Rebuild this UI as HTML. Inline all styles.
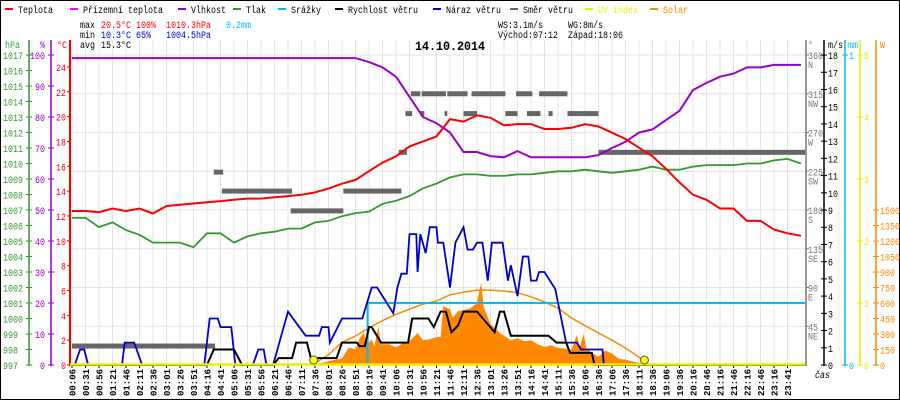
<!DOCTYPE html>
<html><head><meta charset="utf-8">
<style>
html,body{margin:0;padding:0;background:#fff;}
svg{display:block;font-family:"Liberation Mono",monospace;}
</style></head>
<body>
<svg id="chart" width="900" height="400" viewBox="0 0 900 400" xmlns="http://www.w3.org/2000/svg">
<rect x="0.5" y="0.5" width="899" height="399" fill="#fff" stroke="#000" stroke-width="1"/>
<g id="grid"></g>
<g id="legend" font-size="10">
</g>
<g font-size="10">
<text x="80" y="28">max</text>
<text x="101" y="28" fill="#f00">20.5°C</text>
<text x="136" y="28" fill="#f00">100%</text>
<text x="166" y="28" fill="#f00">1010.3hPa</text>
<text x="226" y="28" fill="#0bf">0.2mm</text>
<text x="80" y="38">min</text>
<text x="101" y="38" fill="#00c">10.3°C</text>
<text x="136" y="38" fill="#00c">65%</text>
<text x="166" y="38" fill="#00c">1004.5hPa</text>
<text x="80" y="48">avg</text>
<text x="101" y="48">15.3°C</text>
<text x="498" y="28">WS:3.1m/s</text>
<text x="568" y="28">WG:8m/s</text>
<text x="498" y="38">Východ:07:12</text>
<text x="568" y="38">Západ:18:06</text>
</g>
<text id="title" x="415" y="50" font-size="13" font-weight="bold">14.10.2014</text>
<g id="axes"></g>
<g id="series"></g>
</svg>
<script>
const xLabels=["00:06","00:31","00:56","01:21","01:46","02:11","02:36","03:01","03:26","03:51","04:16","04:41","05:06","05:31","05:56","06:21","06:46","07:11","07:36","08:01","08:26","08:51","09:16","09:41","10:06","10:31","10:56","11:21","11:46","12:11","12:36","13:01","13:26","13:51","14:16","14:41","15:11","15:36","16:06","16:36","17:06","17:36","18:11","18:36","19:06","19:36","20:16","20:46","21:16","21:46","22:16","22:46","23:16","23:41"];
const temperature=[12.4,12.4,12.3,12.6,12.4,12.6,12.2,12.8,12.9,13.0,13.1,13.2,13.3,13.4,13.4,13.5,13.6,13.7,13.9,14.2,14.6,14.9,15.6,16.3,16.8,17.6,18.0,18.4,19.8,19.6,20.1,19.9,19.3,19.4,19.4,19.0,19.0,19.1,19.4,19.2,18.7,18.2,17.5,16.8,15.8,14.7,13.7,13.3,12.6,12.6,11.6,11.6,10.9,10.6,10.4];
const humidity=[99,99,99,99,99,99,99,99,99,99,99,99,99,99,99,99,99,99,99,99,99,99,97.7,96,93,86.5,80,78,75,68.7,68.7,67.4,67,69,67,67,67,67,67,67.7,70,72,75,76,79,82,88.7,91,93,94,96,96,96.8,96.8,96.8];
const pressure=[1006.5,1006.5,1005.9,1006.2,1005.7,1005.4,1004.9,1004.9,1004.9,1004.6,1005.5,1005.5,1004.9,1005.3,1005.5,1005.6,1005.8,1005.8,1006.2,1006.3,1006.6,1006.8,1006.9,1007.4,1007.6,1007.9,1008.4,1008.7,1009.1,1009.3,1009.3,1009.2,1009.2,1009.3,1009.3,1009.4,1009.5,1009.5,1009.6,1009.5,1009.4,1009.5,1009.6,1009.8,1009.6,1009.6,1009.8,1009.9,1009.9,1009.9,1010.0,1010.0,1010.2,1010.3,1010.0];
const windIdx=[0,10.0,10.5,12.0,12.6,14.9,15.3,16.3,16.6,17.4,17.7,19.6,20.0,21.1,21.3,21.7,22.0,22.2,22.9,23.3,24.9,25.2,26.4,26.8,27.3,27.7,28.1,28.6,29.0,29.5,30.0,31.3,31.7,32.0,32.5,33.0,33.2,35.3,35.9,36.6,36.9,38.5,38.7,54.3];
const windVal=[0,0,0.9,0.9,0,0,0.4,0.4,1.3,1.3,0.4,0.4,1.3,1.3,1.1,1.1,2.2,2.2,1.3,1.3,1.3,2.7,2.7,2.2,3.1,3.1,1.9,2.3,3.1,3.1,3.1,1.9,3.1,3.1,1.7,1.7,1.7,1.7,1.3,1.3,0.7,0.7,0,0];
const gustIdx=[0,0.2,0.6,0.9,1.2,3.7,3.9,4.6,5.2,9.8,10.2,10.8,11.0,11.8,12.1,13.4,13.8,14.2,14.4,14.9,16.0,17.3,18.3,18.5,19.0,19.1,20.0,21.5,22.2,22.6,23.8,24.1,24.4,24.8,25.0,25.5,25.6,25.8,26.2,26.5,27.0,27.1,27.5,28.0,28.4,29.0,29.3,29.7,30.0,30.4,30.8,31.1,31.9,32.3,32.5,33.0,33.4,33.8,34.0,34.4,34.6,35.0,35.4,35.8,36.6,37.4,37.7,39.3,39.4,54.3];
const gustVal=[0,0,0.9,0.9,0,0,1.3,1.3,0,0,2.7,2.7,2.2,2.2,0,0,0.9,0.9,0,0,3.1,1.7,1.7,2.2,2.2,1.3,2.7,2.7,4.5,4.5,3.0,4.5,5.3,5.3,7.6,7.6,5.4,7.6,6.5,8.0,8.0,7.1,7.1,4.5,7.1,8.0,6.7,6.7,7.1,7.1,4.9,7.1,7.1,4.9,5.8,4.0,6.3,6.3,4.9,4.9,5.4,5.4,4.9,4.4,1.3,1.3,0.9,0.9,0,0];
const solarIdx=[17.8,18.5,19.5,20,20.5,21,21.3,21.6,21.9,22.2,22.4,22.7,22.9,23.5,24,24.5,25,25.6,26,26.5,27,27.3,27.5,28,28.2,28.6,29,29.5,30,30.3,30.5,31,31.7,32.5,33,33.5,34,34.5,35,35.5,36,36.5,37,37.4,37.6,37.9,38.1,38.5,39,39.5,40,40.5,41,42,43];
const solarVal=[0,20,50,60,170,150,260,310,200,250,180,370,200,200,170,210,230,310,240,250,270,270,570,540,460,520,530,550,600,800,560,400,310,240,260,230,240,200,175,190,165,160,150,290,170,300,160,120,80,140,110,60,50,20,0];
const clearIdx=[17.8,19,20,21,22,23,24,25,26,27,28,29,30,31,32,33,34,35,36,37,38,39,40,41,42,42.8];
const clearVal=[0,100,220,280,360,430,490,540,590,620,680,705,725,725,715,700,660,610,550,455,380,310,240,165,75,0];
const rainIdx=[21.9,21.9,54.3];
const rainVal=[0,0.2,0.2];
const dirStart=[0,10.5,11.1,16.2,20.1,24.2,24.7,25.8,27.6,29.0,32.1,33.7,35.3,36.7,25.1,25.9,27.8,29.6,32.9,34.6,39.0];
const dirEnd=[10.6,11.2,16.3,20.1,24.4,24.8,25.2,26.1,27.8,30.0,33.0,34.7,35.6,39.0,25.8,27.7,29.3,32.1,34.1,36.7,54.3];
const dirVal=[22,224,202,179,202,247,292,292,292,292,292,292,292,292,315,315,315,315,315,315,247];
const sunIdx=[17.9,42.4];
const tempTicks=[0,2,4,6,8,10,12,14,16,18,20,22,24];
const humTicks=[0,10,20,30,40,50,60,70,80,90,100];
const pressTicks=[997,998,999,1000,1001,1002,1003,1004,1005,1006,1007,1008,1009,1010,1011,1012,1013,1014,1015,1016,1017];
const dirTicks=[45,90,135,180,225,270,315,360];
const dirNames=["NE","E","SE","S","SW","W","NW","N"];
const windTicks=[0,1,2,3,4,5,6,7,8,9,10,11,12,13,14,15,16,17,18];
const uvTicks=[0,1,2,3,4,5];
const wTicks=[0,150,300,450,600,750,900,1050,1200,1350,1500];

const NS="http://www.w3.org/2000/svg";
const X0=72,DX=13.5,YB=365;
const xS=i=>X0+DX*i;
const yT=v=>YB-12.42*v;
const yH=v=>YB-3.1*v;
const yP=v=>YB-15.5*(v-997);
const yW=v=>YB-17.22*v;
const yS=v=>YB-0.1033*v;
const yR=v=>YB-310*v;
const yD=v=>YB-0.861*v;
const yU=v=>YB-62*v;
function mk(tag,attrs,parent,txt){const e=document.createElementNS(NS,tag);for(const k in attrs)e.setAttribute(k,attrs[k]);if(txt!==undefined)e.textContent=txt;parent.appendChild(e);return e;}
const grid=document.getElementById('grid'),axes=document.getElementById('axes'),ser=document.getElementById('series'),leg=document.getElementById('legend');

for(let k=1;k<=8;k++){const y=YB-38.75*k;const l=mk('line',{x1:70,x2:805,y1:y,y2:y,stroke:'#e4e4e4','stroke-width':1},grid);

}
xLabels.forEach((lab,i)=>{const x=xS(i);const l=mk('line',{x1:x,x2:x,y1:40,y2:YB,stroke:'#e4e4e4','stroke-width':1},grid);


const t=mk('line',{x1:x,x2:x,y1:YB,y2:YB+3,stroke:'#000'},axes);


const tx=mk('text',{x:0,y:0,transform:`translate(${x+3.5},${YB+31}) rotate(-90)`,'font-size':9,'font-weight':'bold',textLength:27,lengthAdjust:'spacingAndGlyphs'},axes,lab);

});

const legItems=[["Teplota","#f00",5],["Přízemní teplota","#f0f",70],["Vlhkost","#90c",178],["Tlak","#393",233],["Srážky","#0bf",278],["Rychlost větru","#000",335],["Náraz větru","#00c",433],["Směr větru","#666",510],["UV index","#ee0",585],["Solar","#f80",650]];
legItems.forEach(([n,c,x])=>{const r=mk('rect',{x:x,y:8,width:8,height:2,fill:c},leg);


const t=mk('text',{x:x+13,y:13,fill:(c=="#ee0"||c=="#f80")?c:'#000'},leg,n);

});

function axisLine(x,c,w,y1,name){const l=mk('line',{x1:x,x2:x,y1:y1,y2:YB+1,stroke:c,'stroke-width':w},axes);

}
axisLine(29,'#393',1.5,40,'pressure-axis');
axisLine(51,'#90c',1.5,40,'humidity-axis');
axisLine(70,'#f00',2,40,'temperature-axis');
function hdr(x,txt,c){const t=mk('text',{x:x,y:48,fill:c,'font-size':10},axes,txt);

}
hdr(5,'hPa','#393');hdr(40,'%','#90c');hdr(57,'°C','#f00');
pressTicks.forEach(v=>{const y=yP(v);mk('line',{x1:26,x2:32,y1:y,y2:y,stroke:'#393'},axes);
const t=mk('text',{x:3,y:y+4,fill:'#393','font-size':10},axes,String(v));

});
humTicks.forEach(v=>{const y=yH(v);mk('line',{x1:48,x2:54,y1:y,y2:y,stroke:'#90c'},axes);
const t=mk('text',{x:45,y:y+4,fill:'#90c','font-size':10,'text-anchor':'end'},axes,String(v));

});
tempTicks.forEach(v=>{const y=yT(v);mk('line',{x1:67,x2:70,y1:y,y2:y,stroke:'#f00'},axes);
const t=mk('text',{x:66,y:y+4,fill:'#f00','font-size':10,'text-anchor':'end'},axes,String(v));

});

axisLine(806,'#777',1.5,40,'direction-axis');
axisLine(824,'#000',1.5,40,'wind-axis');
axisLine(845,'#0bf',1.5,40,'rain-axis');
axisLine(860,'#ee0',1.5,40,'uv-axis');
axisLine(876,'#f80',1.5,40,'solar-axis');
hdr(808,'°','#777');hdr(828,'m/s','#000');hdr(848,'mm','#0bf');hdr(880,'W','#f80');
dirTicks.forEach((v,k)=>{const y=yD(v);mk('line',{x1:806,x2:809,y1:y,y2:y,stroke:'#777'},axes);
const t=mk('text',{x:808,y:y+4,fill:'#777','font-size':10},axes,String(v));


const t2=mk('text',{x:808,y:y+13,fill:'#777','font-size':10},axes,dirNames[k]);

});
windTicks.forEach(v=>{const y=yW(v);mk('line',{x1:821,x2:827,y1:y,y2:y,stroke:'#000'},axes);
const t=mk('text',{x:828,y:y+4,fill:'#000','font-size':10},axes,String(v));

});
[0,1].forEach(v=>{const y=yR(v);mk('line',{x1:842,x2:848,y1:y,y2:y,stroke:'#0bf'},axes);
const t=mk('text',{x:849,y:y+4,fill:'#0bf','font-size':10},axes,String(v));

});
uvTicks.forEach(v=>{const y=yU(v);mk('line',{x1:857,x2:863,y1:y,y2:y,stroke:'#ee0'},axes);
const t=mk('text',{x:864,y:y+4,fill:'#ee0','font-size':10},axes,String(v));

});
wTicks.forEach(v=>{const y=yS(v);mk('line',{x1:873,x2:879,y1:y,y2:y,stroke:'#f80'},axes);
const t=mk('text',{x:880,y:y+4,fill:'#f80','font-size':10},axes,String(v));

});
const cas=mk('text',{x:815,y:378,'font-size':10,'font-style':'italic'},axes,'čas');



function pts(xs,ys,fy){return xs.map((v,k)=>xS(v).toFixed(1)+','+fy(ys[k]).toFixed(1)).join(' ');}
const idx=temperature.map((_,i)=>i);
const sa=mk('polygon',{points:xS(solarIdx[0])+','+YB+' '+pts(solarIdx,solarVal,yS)+' '+xS(solarIdx[solarIdx.length-1])+','+YB,fill:'#f80'},ser);


const cs=mk('polyline',{points:pts(clearIdx,clearVal,yS),fill:'none',stroke:'#f80','stroke-width':1.5},ser);


const rn=mk('polyline',{points:pts(rainIdx,rainVal,yR),fill:'none',stroke:'#0bf','stroke-width':2},ser);


dirVal.forEach((v,k)=>{const r=mk('rect',{x:xS(dirStart[k]),y:yD(v)-2.5,width:Math.max(2,xS(dirEnd[k])-xS(dirStart[k])),height:5,fill:'#666'},ser);

});
const pr=mk('polyline',{points:pts(idx,pressure,yP),fill:'none',stroke:'#393','stroke-width':1.8},ser);


const hu=mk('polyline',{points:pts(idx,humidity,yH),fill:'none',stroke:'#90c','stroke-width':2},ser);


const te=mk('polyline',{points:pts(idx,temperature,yT),fill:'none',stroke:'#f00','stroke-width':2},ser);


const gu=mk('polyline',{points:pts(gustIdx,gustVal,yW),fill:'none',stroke:'#00c','stroke-width':1.8},ser);


const ws=mk('polyline',{points:pts(windIdx,windVal,yW),fill:'none',stroke:'#000','stroke-width':2},ser);


const uv=mk('line',{x1:70,x2:805,y1:YB-0.5,y2:YB-0.5,stroke:'#ee0','stroke-width':2.5},ser);


sunIdx.forEach(v=>{const c=mk('circle',{cx:xS(v),cy:YB-5,r:4,fill:'#ff0',stroke:'#555','stroke-width':1},ser);

});

// compact pixel-font widths
document.querySelectorAll('#chart text').forEach(t=>{
  if(t.hasAttribute('textLength'))return;
  const n=[...t.textContent].length;
  const cw=(t.id==='title')?7:5;
  t.setAttribute('textLength',n*cw);
  t.setAttribute('lengthAdjust','spacingAndGlyphs');
});
</script>
</body></html>
